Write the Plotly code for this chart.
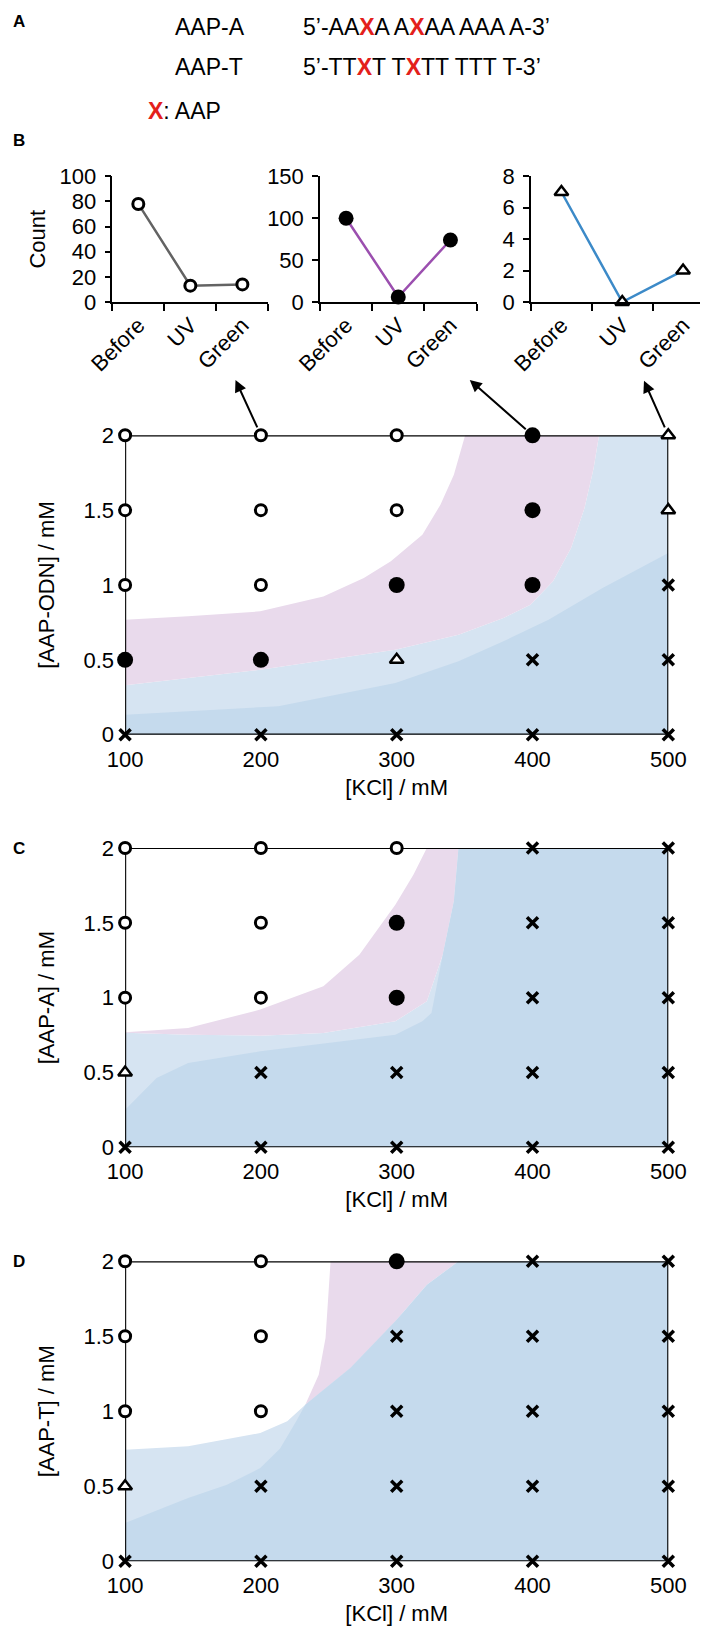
import plotly.graph_objects as go

W, H = 708, 1626
FONT = "Arial, 'Liberation Sans', sans-serif"
RED = "#E3201B"

# ---------------- data ----------------
stages = ["Before", "UV", "Green"]
count_open = [78, 13, 14]
count_filled = [100, 6, 74]
count_triangle = [7, 0, 2]

kcl = [100, 200, 300, 400, 500]
conc = [0, 0.5, 1, 1.5, 2]

# rows follow conc (0 -> 2), columns follow kcl; O open circle, F filled circle, T triangle, X cross
states_odn = [
    ["X", "X", "X", "X", "X"],
    ["F", "F", "T", "X", "X"],
    ["O", "O", "F", "F", "X"],
    ["O", "O", "O", "F", "T"],
    ["O", "O", "O", "F", "T"],
]
states_a = [
    ["X", "X", "X", "X", "X"],
    ["T", "X", "X", "X", "X"],
    ["O", "O", "F", "X", "X"],
    ["O", "O", "F", "X", "X"],
    ["O", "O", "O", "X", "X"],
]
states_t = [
    ["X", "X", "X", "X", "X"],
    ["T", "X", "X", "X", "X"],
    ["O", "O", "X", "X", "X"],
    ["O", "O", "X", "X", "X"],
    ["O", "O", "F", "X", "X"],
]

# region boundaries, panel B
b_pink_top_x = [100, 146.4, 199.5, 246, 275.8, 295.7, 318.9, 332.2, 342.1, 350.4]
b_pink_top_y = [0.768, 0.791, 0.824, 0.924, 1.047, 1.158, 1.336, 1.536, 1.737, 2.0]
b_pink_bot_x = [100, 199.5, 299, 345.5, 378.6, 398.5, 415.1, 428.4, 438.3, 445, 449]
b_pink_bot_y = [0.33, 0.434, 0.568, 0.668, 0.78, 0.868, 1.025, 1.247, 1.514, 1.78, 2.0]
b_dark_x = [100, 212.8, 299, 345.5, 378.6, 411.8, 451.6, 500]
b_dark_y = [0.134, 0.19, 0.345, 0.49, 0.624, 0.768, 0.98, 1.214]

# panel C
c_pink_top_x = [100, 146.4, 199.5, 246, 272.5, 299, 312.3, 322.2]
c_pink_top_y = [0.768, 0.797, 0.92, 1.076, 1.287, 1.621, 1.822, 2.0]
c_pink_bot_x = [100, 146.4, 199.5, 246, 299, 322.2, 333.9, 342.1, 345.5]
c_pink_bot_y = [0.765, 0.752, 0.746, 0.764, 0.842, 0.976, 1.287, 1.644, 2.0]
c_dark_x = [100, 123.2, 146.4, 199.5, 299, 318.9, 325.6, 333.9, 342.1, 345.5]
c_dark_y = [0.251, 0.463, 0.563, 0.641, 0.752, 0.842, 0.897, 1.287, 1.644, 2.0]

# panel D
d_light_top_x = [100, 146.4, 199.5, 219.4, 232.7]
d_light_top_y = [0.744, 0.767, 0.855, 0.933, 1.044]
d_pink_left_x = [232.7, 242.6, 247.6, 249.9, 251.3]
d_pink_left_y = [1.044, 1.244, 1.489, 1.822, 2.0]
d_dark_x = [100, 146.4, 175, 199.5, 214, 226, 232.7, 265.9, 299, 322.2, 345.5]
d_dark_y = [0.255, 0.422, 0.51, 0.622, 0.75, 0.933, 1.044, 1.289, 1.6, 1.844, 2.0]

PINK = "#E9DAEC"
LIGHT = "#D6E4F2"
DARK = "#C5DAED"

# arrows from the phase-diagram points to the small charts
arrow_from = [(200, 2), (400, 2), (500, 2)]
arrow_to = [(181.3, 2.37), (353.8, 2.37), (482.1, 2.365)]

# ---------------- layout geometry (pixels) ----------------
def px_x(p):
    return p / W

def px_y(p):
    return 1 - p / H

big_x = [px_x(117.1), px_x(660.3)]
big_y = {
    "B": [px_y(726.7), px_y(427.3)],
    "C": [px_y(1139.3), px_y(840)],
    "D": [px_y(1553.3), px_y(1253.3)],
}
small_y = [px_y(294), px_y(168.3)]
small_x = [[px_x(104.3), px_x(260.4)], [px_x(312), px_x(468.5)], [px_x(523), px_x(705.5)]]

fig = go.Figure()

# ---------------- small charts ----------------
small_series = [
    (count_open, "#636363", dict(symbol="circle", size=11, color="white", line=dict(color="black", width=3)), 100, 20),
    (count_filled, "#9B4FAF", dict(symbol="circle", size=15, color="black", line=dict(width=0)), 150, 50),
    (count_triangle, "#3C8AC8", dict(symbol="triangle-up", size=12, color="white", line=dict(color="black", width=2.5)), 8, 2),
]
for i, (vals, col, mk, ymax, dt) in enumerate(small_series):
    n = i + 1
    sfx = "" if n == 1 else str(n)
    fig.add_trace(go.Scatter(
        x=stages, y=vals, mode="lines+markers", xaxis=f"x{sfx}", yaxis=f"y{sfx}",
        line=dict(color=col, width=2.5), marker=mk, cliponaxis=False, showlegend=False,
    ))
    xa = dict(domain=small_x[i], anchor=f"y{sfx}", type="category", range=[-0.5, 2.5], automargin=False,
              tickson="boundaries", ticks="outside", ticklen=7, tickwidth=1.5, tickcolor="black",
              showline=True, linecolor="black", linewidth=1.5, showgrid=False, zeroline=False,
              tickangle=-45, tickfont=dict(size=22, family=FONT, color="black"))
    ya = dict(domain=small_y, anchor=f"x{sfx}", range=[0, ymax], dtick=dt, tick0=0, automargin=False,
              ticks="outside", ticklen=6, tickwidth=1.5, tickcolor="black",
              showline=True, linecolor="black", linewidth=1.5, showgrid=False, zeroline=False,
              tickfont=dict(size=22, family=FONT, color="black"), ticklabelstandoff=4)
    if i == 0:
        ya["title"] = dict(text="Count", font=dict(size=22, family=FONT, color="black"), standoff=8)
    fig.update_layout({f"xaxis{sfx}": xa, f"yaxis{sfx}": ya})

# ---------------- phase diagrams ----------------
SYM = {
    "O": dict(symbol="circle", size=11, color="white", line=dict(color="black", width=3)),
    "F": dict(symbol="circle", size=16, color="black", line=dict(width=0)),
    "T": dict(symbol="triangle-up", size=12, color="white", line=dict(color="black", width=2.5)),
    "X": dict(symbol="x-thin", size=11, color="black", line=dict(color="black", width=3.5)),
}


def poly(xs, ys, color, xa, ya):
    fig.add_trace(go.Scatter(x=xs, y=ys, fill="toself", fillcolor=color, mode="lines",
                             line=dict(width=0, color=color), xaxis=xa, yaxis=ya,
                             hoverinfo="skip", showlegend=False))


def panel(n, states, regions, ytitle, key):
    xa, ya = f"x{n}", f"y{n}"
    for xs, ys, col in regions:
        poly(xs, ys, col, xa, ya)
    x0, x1 = min(kcl), max(kcl)
    y0, y1 = min(conc), max(conc)
    fig.add_trace(go.Scatter(x=[x0, x1, x1, x0, x0], y=[y0, y0, y1, y1, y0], mode="lines",
                             line=dict(color="black", width=2.2), xaxis=xa, yaxis=ya,
                             cliponaxis=False, hoverinfo="skip", showlegend=False))
    for code in ["O", "F", "T", "X"]:
        xs, ys = [], []
        for r, c_val in enumerate(conc):
            for c, k_val in enumerate(kcl):
                if states[r][c] == code:
                    xs.append(k_val)
                    ys.append(c_val)
        fig.add_trace(go.Scatter(x=xs, y=ys, mode="markers", marker=SYM[code], xaxis=xa, yaxis=ya,
                                 cliponaxis=False, showlegend=False))
    fig.update_layout({
        f"xaxis{n}": dict(domain=big_x, anchor=ya, range=[100, 500], tickvals=kcl, automargin=False,
                          showline=False, showgrid=False, zeroline=False, ticks="",
                          ticklabelstandoff=9,
                          tickfont=dict(size=22, family=FONT, color="black"),
                          title=dict(text="[KCl] / mM", font=dict(size=22, family=FONT, color="black"), standoff=8)),
        f"yaxis{n}": dict(domain=big_y[key], anchor=xa, range=[0, 2], tickvals=conc, automargin=False,
                          ticktext=["0", "0.5", "1", "1.5", "2"],
                          showline=False, showgrid=False, zeroline=False, ticks="",
                          ticklabelstandoff=10,
                          tickfont=dict(size=22, family=FONT, color="black"),
                          title=dict(text=ytitle, font=dict(size=22, family=FONT, color="black"), standoff=22)),
    })


b_regions = [
    ([100] + b_pink_bot_x + [500, 500], [0] + b_pink_bot_y + [2, 0], LIGHT),
    (b_pink_top_x + b_pink_bot_x[::-1], b_pink_top_y + b_pink_bot_y[::-1], PINK),
    ([100] + b_dark_x + [500], [0] + b_dark_y + [0], DARK),
]
c_regions = [
    ([100] + c_pink_bot_x + [500, 500], [0] + c_pink_bot_y + [2, 0], LIGHT),
    (c_pink_top_x + c_pink_bot_x[::-1], c_pink_top_y + c_pink_bot_y[::-1], PINK),
    ([100] + c_dark_x + [500, 500], [0] + c_dark_y + [2, 0], DARK),
]
d_pink_right_x = d_dark_x[6:]
d_pink_right_y = d_dark_y[6:]
d_regions = [
    ([100] + d_light_top_x + [345.5, 500, 500], [0] + d_light_top_y + [2, 2, 0], LIGHT),
    (d_pink_left_x + d_pink_right_x[::-1], d_pink_left_y + d_pink_right_y[::-1], PINK),
    ([100] + d_dark_x + [500, 500], [0] + d_dark_y + [2, 0], DARK),
]

panel(4, states_odn, b_regions, "[AAP-ODN] / mM", "B")
panel(5, states_a, c_regions, "[AAP-A] / mM", "C")
panel(6, states_t, d_regions, "[AAP-T] / mM", "D")

# arrows
for (fx, fy), (tx, ty) in zip(arrow_from, arrow_to):
    fig.add_annotation(x=tx, y=ty, ax=fx, ay=fy, xref="x4", yref="y4", axref="x4", ayref="y4",
                       text="", showarrow=True, arrowhead=2, arrowsize=1.2, arrowwidth=2,
                       arrowcolor="black", startstandoff=7)

# ---------------- text panel A and panel letters ----------------
def xred(s):
    return s.replace("X", f"<b><span style='color:{RED}'>X</span></b>")

texts = [
    ("A", 4, 13, 17, True),
    ("B", 4, 132, 17, True),
    ("C", 4, 840, 17, True),
    ("D", 4, 1253, 17, True),
    ("AAP-A", 166, 18.5, 23, False),
    ("AAP-T", 166, 59, 23, False),
    (xred("5’-AAXA AXAA AAA A-3’"), 294, 18.5, 23, False),
    (xred("5’-TTXT TXTT TTT T-3’"), 294, 59, 23, False),
    (xred("X") + ": AAP", 139, 103.5, 23, False),
]
for t, x, y, s, bold in texts:
    fig.add_annotation(x=px_x(x), y=px_y(y), xref="paper", yref="paper", xanchor="left", yanchor="middle",
                       text=f"<b>{t}</b>" if bold else t, showarrow=False, borderpad=0,
                       font=dict(size=s, family=FONT, color="black"))

fig.update_layout(
    width=W, height=H, margin=dict(l=0, r=0, t=0, b=0),
    paper_bgcolor="white", plot_bgcolor="rgba(0,0,0,0)",
    font=dict(family=FONT, size=22, color="black"),
    showlegend=False,
)

fig.write_html("out.html")
